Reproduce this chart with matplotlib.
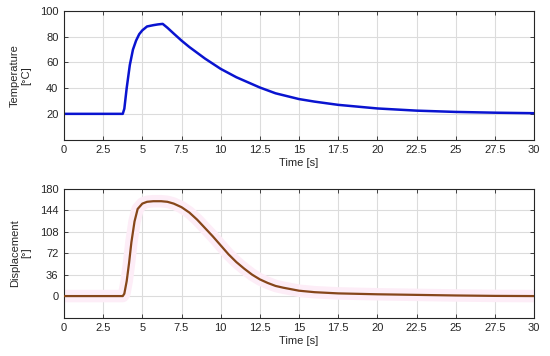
import numpy as np
import matplotlib.pyplot as plt

plt.rcParams['font.family'] = ['Liberation Sans', 'DejaVu Sans']

# temperature [°C] vs time [s]
t_temp = [0, 3.5, 3.75, 3.85, 4.0, 4.2, 4.4, 4.6, 4.8, 5.0, 5.3, 5.7, 6.0, 6.3, 6.6, 7.0,
          7.5, 8.0, 8.5, 9.0, 10, 11, 12.5, 13.5, 15, 16, 17.5, 20, 22.5, 25, 27.5, 30]
temp = [20, 20, 20, 24, 40, 58, 70, 77, 82, 85, 88, 89, 89.6, 90, 87, 82.5,
        77, 72, 67.5, 63, 55, 48.5, 40.5, 36, 31.5, 29.5, 27, 24.2, 22.5, 21.5, 20.9, 20.5]

# displacement [°] vs time [s]
t_disp = [0, 3.5, 3.75, 3.85, 4.0, 4.15, 4.3, 4.5, 4.7, 5.0, 5.3, 5.7, 6.2, 6.6,
          7.0, 7.5, 8.0, 8.5, 9.0, 9.5, 10, 10.5, 11, 11.5, 12, 12.5, 13, 13.5,
          14, 15, 16, 17.5, 20, 22.5, 25, 27.5, 30]
disp = [0, 0, 0, 4, 25, 55, 90, 125, 146, 155, 158, 159, 159, 158,
        155, 149, 140, 128, 114, 100, 85, 70, 57, 46, 36, 28, 22, 17,
        14, 9, 6.5, 4.5, 3, 2, 1, 0.3, 0]

xticks = [0, 2.5, 5, 7.5, 10, 12.5, 15, 17.5, 20, 22.5, 25, 27.5, 30]
xtick_labels = ['0', '2.5', '5', '7.5', '10', '12.5', '15', '17.5', '20', '22.5', '25', '27.5', '30']
temp_ticks = [20, 40, 60, 80, 100]
disp_ticks = [0, 36, 72, 108, 144, 180]

fig = plt.figure(figsize=(5.5, 3.56), dpi=100)
fig.set_facecolor('white')
ax1 = fig.add_axes([0.1164, 0.608, 0.8545, 0.361])
ax2 = fig.add_axes([0.1164, 0.108, 0.8545, 0.362])


def style(ax):
    ax.set_xlim(0, 30)
    ax.set_xticks(xticks)
    ax.set_xticklabels(xtick_labels)
    ax.grid(True, color='#dcdcdc', lw=0.8)
    ax.set_axisbelow(True)
    ax.tick_params(direction='in', top=True, right=True, labelsize=8,
                   length=3, width=0.6, colors='#262626', pad=4)
    for s in ax.spines.values():
        s.set_color('#262626')
        s.set_linewidth(0.8)
    ax.set_xlabel('Time [s]', fontsize=8, labelpad=2, color='#262626')


ax1.plot(t_temp, temp, color='#0a14d0', lw=1.8)
ax1.set_ylim(0, 100)
ax1.set_yticks(temp_ticks)
style(ax1)
ax1.set_ylabel('Temperature\n[°C]', fontsize=8, color='#262626', labelpad=6)

# faint pink halo behind the displacement trace
ax2.plot(t_disp, disp, color='#fdedf7', lw=9, solid_capstyle='butt', zorder=2)
ax2.plot(t_disp, disp, color='#86461a', lw=1.6, zorder=3)
ax2.set_ylim(-36, 180)
ax2.set_yticks(disp_ticks)
style(ax2)
ax2.set_ylabel('Displacement\n[°]', fontsize=8, color='#262626', labelpad=6)

fig.savefig('out.png', dpi=100)
